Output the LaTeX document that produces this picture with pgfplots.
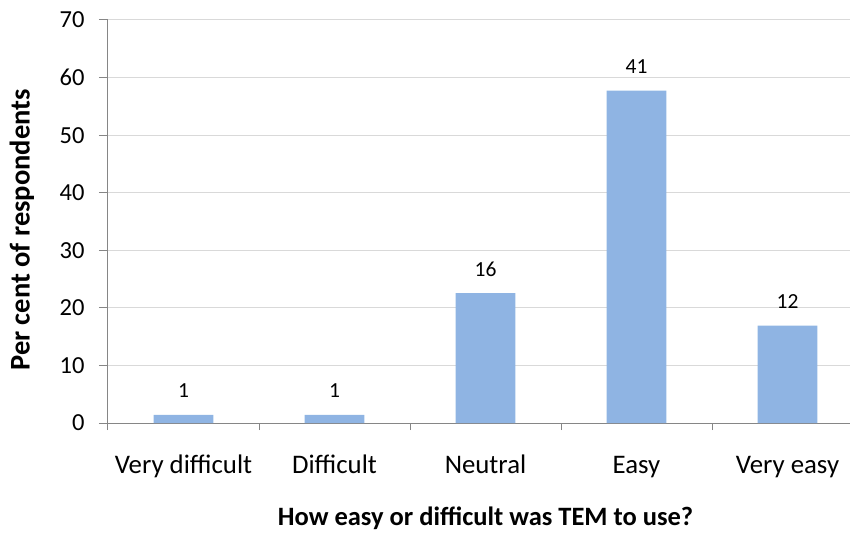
\documentclass[border=0pt]{standalone}
\usepackage{fontspec}
\setmainfont{Carlito}
\usepackage{pgfplots}
\usepackage{pgfplotstable}
\pgfplotsset{compat=1.18}

\definecolor{barblue}{HTML}{8FB4E3}
\definecolor{axisgray}{HTML}{868686}
\definecolor{gridgray}{HTML}{D9D9D9}

% responses per rating (71 respondents); pct = share of respondents
\pgfplotstableread{
x pct count
0 1.41 1
1 1.41 1
2 22.54 16
3 57.75 41
4 16.90 12
}\ratings

\begin{document}
\begin{tikzpicture}
\begin{axis}[
  scale only axis,
  width=755pt, height=403pt,
  xmin=-0.5, xmax=4.5,
  ymin=0, ymax=70,
  ytick={0,10,...,70},
  xtick={0,1,2,3,4},
  xticklabels={Very difficult,Difficult,Neutral,Easy,Very easy},
  minor xtick={-0.5,0.5,1.5,2.5,3.5,4.5},
  major x tick style={draw=none},
  minor x tick style={axisgray, line width=1pt},
  minor tick length=7pt,
  major tick length=9pt,
  y tick style={axisgray, line width=1pt},
  tick align=outside,
  tick pos=left,
  axis x line*=bottom,
  axis y line*=left,
  axis line style={axisgray, line width=1pt},
  ymajorgrids,
  grid style={gridgray, line width=1pt},
  /pgf/number format/assume math mode=true,
  yticklabel style={font=\fontsize{24.5}{28}\selectfont, text=black, xshift=-11pt},
  xticklabel style={font=\fontsize{26.8}{30}\selectfont, text=black, anchor=base, yshift=-41pt},
  xlabel={\textbf{How easy or difficult was TEM to use?}},
  ylabel={\textbf{Per cent of respondents}},
  xlabel style={font=\fontsize{26.5}{30}\selectfont, at={(axis description cs:0.5,-0.2531)}, anchor=base},
  ylabel style={font=\fontsize{28.5}{32}\selectfont, at={(axis description cs:-0.114,0.479)}, anchor=center},
]
\addplot[ybar, bar width=0.397, fill=barblue, draw=none,
  point meta=explicit,
  nodes near coords={\pgfmathprintnumber{\pgfplotspointmeta}},
  every node near coord/.append style={font=\fontsize{21.5}{25}\selectfont, text=black, anchor=center, yshift=24pt}]
  table[x=x, y=pct, meta=count] {\ratings};
\end{axis}
% page frame: 108pt left of the plot area, its right end trimmed by 13pt,
% 20pt above and 110pt below
\pgfresetboundingbox
\path[use as bounding box] ([xshift=-108pt, yshift=-110pt]current axis.south west)
  rectangle ([xshift=-13pt, yshift=20pt]current axis.north east);
\end{tikzpicture}
\end{document}
